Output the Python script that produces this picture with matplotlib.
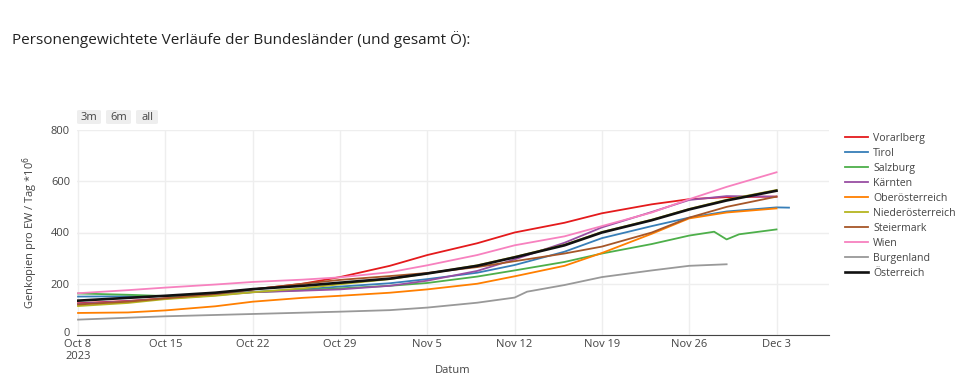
import matplotlib
matplotlib.use("Agg")
import matplotlib.pyplot as plt
import matplotlib.transforms as mtransforms
from matplotlib.patches import FancyBboxPatch
import numpy as np
import pandas as pd

plt.rcParams['font.family'] = ['Open Sans', 'DejaVu Sans']

dates = pd.to_datetime([
    "2023-10-08", "2023-10-12", "2023-10-15", "2023-10-19", "2023-10-22", "2023-10-26",
    "2023-10-29", "2023-11-02", "2023-11-05", "2023-11-09", "2023-11-12", "2023-11-16",
    "2023-11-19", "2023-11-23", "2023-11-26", "2023-11-29", "2023-12-03"])

vorarlberg = [124, 133, 143, 160, 178, 200, 226, 270, 312, 358, 400, 438, 475, 510, 530, 538, 540]
wien = [163, 175, 185, 197, 207, 216, 225, 245, 272, 312, 350, 385, 425, 478, 530, 578, 635]
oesterreich = [134, 145, 153, 165, 179, 192, 204, 220, 240, 270, 303, 350, 400, 448, 490, 525, 563]
niederoe = [113, 125, 140, 153, 167, 182, 198, 218, 240, 272, 305, 352, 402, 450, 492, 528, 566]
steiermark = [119, 130, 143, 160, 178, 200, 215, 230, 242, 265, 288, 318, 345, 400, 458, 500, 540]
kaernten = [122, 132, 142, 155, 167, 173, 178, 192, 212, 250, 295, 360, 420, 480, 527, 542, 540]
oberoe = [86, 88, 96, 112, 130, 145, 153, 165, 178, 200, 229, 270, 320, 395, 455, 478, 494]

tirol_dates = pd.to_datetime(list(dates.strftime("%Y-%m-%d")) + ["2023-12-04"])
tirol = [150, 151, 152, 160, 168, 178, 189, 202, 218, 243, 273, 325, 378, 425, 458, 482, 498, 497]

salzburg_dates = pd.to_datetime([
    "2023-10-08", "2023-10-12", "2023-10-15", "2023-10-19", "2023-10-22", "2023-10-26",
    "2023-10-29", "2023-11-02", "2023-11-05", "2023-11-09", "2023-11-12", "2023-11-16",
    "2023-11-19", "2023-11-23", "2023-11-26", "2023-11-28", "2023-11-29", "2023-11-30",
    "2023-12-03"])
salzburg = [162, 157, 152, 158, 167, 175, 182, 192, 203, 228, 252, 285, 318, 355, 388, 403, 373, 393, 412]

burgenland_dates = pd.to_datetime([
    "2023-10-08", "2023-10-15", "2023-10-22", "2023-10-29", "2023-11-02", "2023-11-05",
    "2023-11-09", "2023-11-12", "2023-11-13", "2023-11-16", "2023-11-19", "2023-11-23",
    "2023-11-26", "2023-11-29"])
burgenland = [60, 73, 82, 91, 97, 107, 126, 146, 169, 195, 226, 252, 270, 276]

series = [
    ("Vorarlberg", dates, vorarlberg, "#e41a1c"),
    ("Tirol", tirol_dates, tirol, "#377eb8"),
    ("Salzburg", salzburg_dates, salzburg, "#4daf4a"),
    ("Kärnten", dates, kaernten, "#984ea3"),
    ("Oberösterreich", dates, oberoe, "#ff7f00"),
    ("Niederösterreich", dates, niederoe, "#b5b520"),
    ("Steiermark", dates, steiermark, "#a65628"),
    ("Wien", dates, wien, "#f781bf"),
    ("Burgenland", burgenland_dates, burgenland, "#999999"),
    ("Österreich", dates, oesterreich, "#111111"),
]

tick_dates = pd.to_datetime(["2023-10-08", "2023-10-15", "2023-10-22", "2023-10-29",
                             "2023-11-05", "2023-11-12", "2023-11-19", "2023-11-26", "2023-12-03"])
tick_labels = ["Oct 8\n2023", "Oct 15", "Oct 22", "Oct 29", "Nov 5", "Nov 12", "Nov 19", "Nov 26", "Dec 3"]
y_ticks = [0, 200, 400, 600, 800]

fig = plt.figure(figsize=(9.6, 3.92), dpi=100)
ax = fig.add_axes([77/960, 1 - 335/392, (829 - 77)/960, (335 - 130)/392])

for name, d, v, c in series:
    lw = 1.9 if name == "Österreich" else 1.3
    ax.plot(d, v, color=c, lw=lw, label=name, solid_joinstyle='round')

ax.set_xlim(pd.Timestamp("2023-10-08") - pd.Timedelta(hours=2),
            pd.Timestamp("2023-12-07") + pd.Timedelta(hours=5))
ax.set_ylim(0, 800)
ax.set_xticks(tick_dates)
ax.set_xticklabels(tick_labels, linespacing=1.15)
ax.set_yticks(y_ticks)
ax.grid(True, color="#eeeeee", lw=1)
ax.set_axisbelow(True)
for s in ["top", "right", "left"]:
    ax.spines[s].set_visible(False)
ax.spines["bottom"].set_color("#444444")
ax.tick_params(axis="both", length=0, labelsize=8, colors="#444444")
ax.tick_params(axis="y", pad=5)
ax.tick_params(axis="x", pad=3)

# nudge the "0" label up slightly so it does not touch "Oct 8"
zero_lbl = ax.get_yticklabels()[0]
zero_lbl.set_transform(zero_lbl.get_transform() +
                       mtransforms.ScaledTranslation(0, 3/100, fig.dpi_scale_trans))

ax.set_ylabel("Genkopien pro EW / Tag *10$^6$", fontsize=8, color="#444444", labelpad=8)
ax.set_xlabel("Datum", fontsize=8, color="#444444", labelpad=2)

leg = ax.legend(loc="upper left", bbox_to_anchor=(845/960, 1 - 133/392), bbox_transform=fig.transFigure,
                frameon=False, fontsize=7.6, handlelength=2.2, handletextpad=0.45,
                labelspacing=0.38, borderaxespad=0, borderpad=0)
for t in leg.get_texts():
    t.set_color("#444444")

fig.text(12/960, 1 - 40/392, "Personengewichtete Verläufe der Bundesländer (und gesamt Ö):",
         fontsize=11, color="#222222", va="center", ha="left")

buttons = [("3m", 77, 101), ("6m", 106, 131), ("all", 136, 158)]
for txt, x0, x1 in buttons:
    y0, y1 = 110, 124
    p = FancyBboxPatch((x0/960, 1 - y1/392), (x1 - x0)/960, (y1 - y0)/392,
                       boxstyle="round,pad=0,rounding_size=0.003", transform=fig.transFigure,
                       facecolor="#eeeeee", edgecolor="none")
    fig.patches.append(p)
    fig.text((x0 + x1)/2/960, 1 - (y0 + y1)/2/392, txt, fontsize=8, color="#444444",
             ha="center", va="center")

fig.savefig("out.png", dpi=100, facecolor="white")
